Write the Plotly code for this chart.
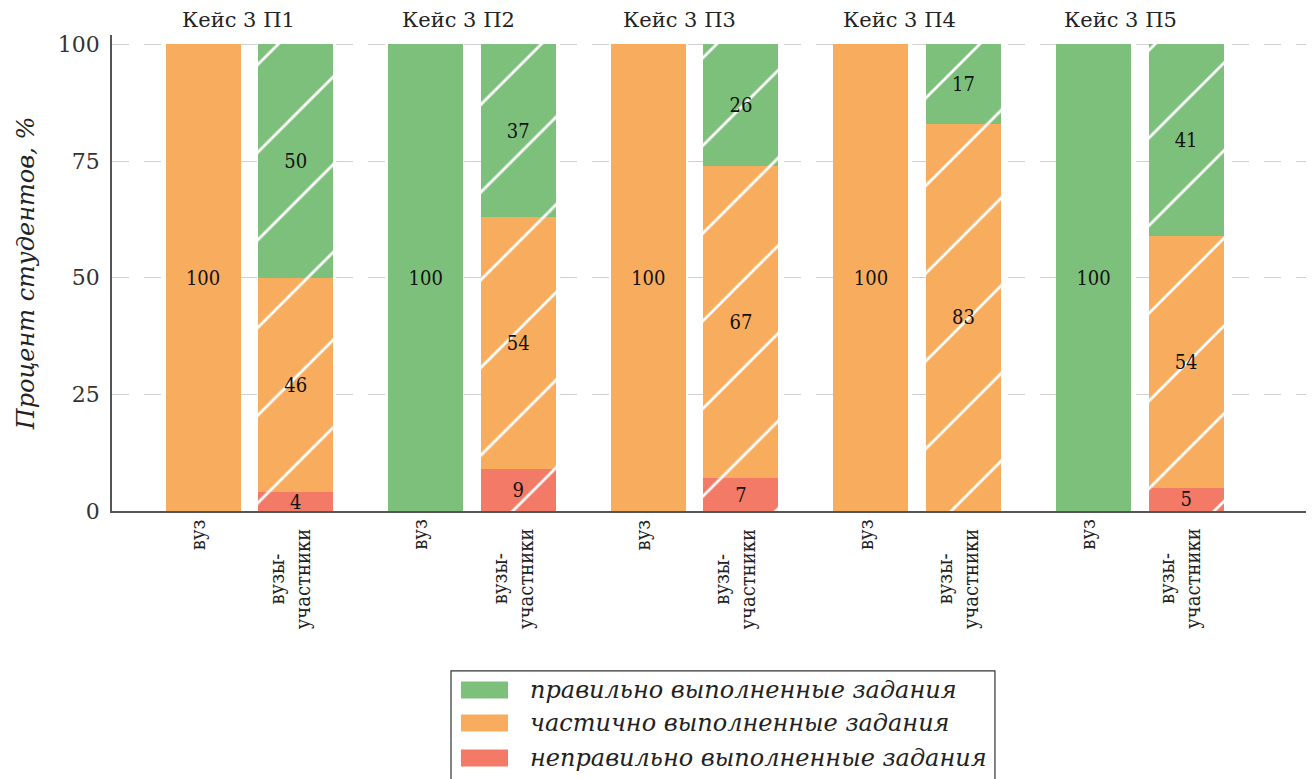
import plotly.graph_objects as go

# ---------------- data ----------------
cases = ["Кейс 3 П1", "Кейс 3 П2", "Кейс 3 П3", "Кейс 3 П4", "Кейс 3 П5"]
group_labels = ["вуз", "вузы-<br>участники"]
series_names = ["правильно выполненные задания",
                "частично выполненные задания",
                "неправильно выполненные задания"]

correct_vuz = [0, 100, 0, 0, 100]
partial_vuz = [100, 0, 100, 100, 0]
incorrect_vuz = [0, 0, 0, 0, 0]

correct_part = [50, 37, 26, 17, 41]
partial_part = [46, 54, 67, 83, 54]
incorrect_part = [4, 9, 7, 0, 5]

y_ticks = [0, 25, 50, 75, 100]

# ---------------- styling ----------------
colors = {"correct": "#7dc07b", "partial": "#f8ad5e", "incorrect": "#f27a66"}
SERIF = "DejaVu Serif"
COND = "DejaVu Serif Condensed, DejaVu Serif"

GROUP_STEP = 2.405
positions, ticktext, shapes_pat = [], [], []
for i in range(len(cases)):
    for j in range(2):
        positions.append(i * GROUP_STEP + j)
        ticktext.append(group_labels[j])
        shapes_pat.append("" if j == 0 else "/")


def interleave(a, b):
    out = []
    for u, v in zip(a, b):
        out.extend([u, v])
    return out


stack = [
    ("incorrect", series_names[2], interleave(incorrect_vuz, incorrect_part)),
    ("partial", series_names[1], interleave(partial_vuz, partial_part)),
    ("correct", series_names[0], interleave(correct_vuz, correct_part)),
]

fig = go.Figure()
for key, name, vals in stack:
    fig.add_trace(go.Bar(
        x=positions, y=vals, name=name, width=0.81,
        marker=dict(color=colors[key], line=dict(width=0),
                    pattern=dict(shape=shapes_pat, fgcolor="white", fgopacity=1,
                                 fillmode="overlay", size=62, solidity=0.045)),
        text=[str(v) if v > 0 else "" for v in vals],
        textposition="inside", insidetextanchor="middle", textangle=0,
        constraintext="none",
        textfont=dict(family=COND, size=20, color="#111"),
        showlegend=False, hoverinfo="skip",
    ))

# page body has an 8px default margin; figure is sized/margined to compensate
fig.update_layout(
    barmode="stack",
    width=1306, height=771,
    margin=dict(l=104, r=2, t=27, b=268),
    paper_bgcolor="white", plot_bgcolor="white",
    font=dict(family=SERIF, color="#222"),
    xaxis=dict(range=[-0.984, 11.98], tickvals=positions, ticktext=[""] * len(positions),
               showline=True, linecolor="#555", linewidth=1.5,
               showgrid=False, zeroline=False, ticks=""),
    yaxis=dict(range=[0, 102], tickvals=y_ticks, showline=True, linecolor="#555",
               linewidth=1.5, showgrid=True, gridcolor="#d0d0d0", griddash="17px,15px",
               gridwidth=1.3, zeroline=False, ticks="",
               tickfont=dict(family=SERIF, size=22, color="#333"),
               ticklabelstandoff=6,
               title=dict(text="Процент студентов, %", standoff=16,
                          font=dict(family=SERIF, size=24, color="#222", style="italic"))),
)

# category labels under each bar (rotated, lines centred)
for xp, lab in zip(positions, ticktext):
    single = "<br>" not in lab
    fig.add_annotation(text=lab, xref="x", yref="paper", x=xp - 0.06, y=-0.034,
                       xanchor="center", yanchor="top", textangle=-90, align="center",
                       showarrow=False, yshift=10 if single else 0,
                       font=dict(family=COND, size=20, color="#222"))

# facet titles
for i, c in enumerate(cases):
    fig.add_annotation(text=c, xref="paper", yref="paper",
                       x=0.105 + i * 0.18375, y=1.0315, showarrow=False,
                       xanchor="center", yanchor="middle",
                       font=dict(family=SERIF, size=21, color="#222"))

# custom legend
row_y = [-0.376, -0.4454, -0.519]
leg_keys = ["correct", "partial", "incorrect"]
fig.add_shape(type="rect", xref="paper", yref="paper",
              x0=0.2825, x1=0.7358, y0=-0.62, y1=-0.336,
              line=dict(color="#333", width=1.2), fillcolor="white", layer="below")
for k, nm, yy in zip(leg_keys, series_names, row_y):
    fig.add_shape(type="rect", xref="paper", yref="paper",
                  x0=0.2908, x1=0.3300, y0=yy - 0.0178, y1=yy + 0.0178,
                  line=dict(width=0), fillcolor=colors[k])
    fig.add_annotation(text=nm, xref="paper", yref="paper", x=0.3467, y=yy,
                       xanchor="left", yanchor="middle", showarrow=False,
                       font=dict(family=SERIF, size=24, color="#222", style="italic"))

fig.write_html("out.html")
